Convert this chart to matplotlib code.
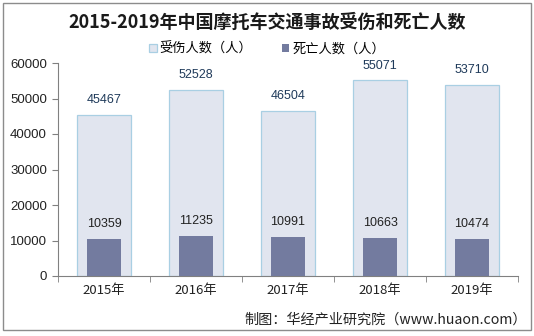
import matplotlib
matplotlib.use("Agg")
import matplotlib.pyplot as plt
from matplotlib.patches import Rectangle

plt.rcParams['font.family'] = ['Noto Sans CJK SC', 'DejaVu Sans']

years = ["2015年", "2016年", "2017年", "2018年", "2019年"]
injured = [45467, 52528, 46504, 55071, 53710]
deaths = [10359, 11235, 10991, 10663, 10474]
yticks = [0, 10000, 20000, 30000, 40000, 50000, 60000]

fig = plt.figure(figsize=(5.34, 3.36), dpi=100)
fig.patches.append(Rectangle((3/534, 6/336), 528/534, 327/336, transform=fig.transFigure,
                             fill=False, edgecolor='#8c8c8c', linewidth=1.0))
ax = fig.add_axes([58/534, 1-276/336, 460/534, 213/336])

x = list(range(len(years)))
b1 = ax.bar(x, injured, width=0.59, color='#e1e5ef', edgecolor='#a9cfe3', linewidth=0.9,
            label='受伤人数（人）', zorder=2)
b2 = ax.bar(x, deaths, width=0.37, color='#737b9f', edgecolor='none',
            label='死亡人数（人）', zorder=3)

for xi, v in zip(x, injured):
    ax.text(xi, v + 2500, str(v), ha='center', va='bottom', fontsize=9,
            color='#1f3a5a', family=['Liberation Sans', 'DejaVu Sans'])
for xi, v in zip(x, deaths):
    ax.text(xi, v + 2500, str(v), ha='center', va='bottom', fontsize=9,
            color='#222222', family=['Liberation Sans', 'DejaVu Sans'])

ax.set_xlim(-0.5, len(years) - 0.5)
ax.set_ylim(0, 60000)
ax.set_yticks(yticks)
ax.set_yticklabels([str(t) for t in yticks], family=['Liberation Sans', 'DejaVu Sans'],
                   fontsize=9.5, color='#222222')
ax.set_xticks(x)
ax.set_xticklabels(years, fontsize=9.5, color='#222222')
ax.tick_params(axis='x', which='major', length=0, pad=6)
ax.set_xticks([i - 0.5 for i in range(len(years) + 1)], minor=True)
ax.tick_params(axis='x', which='minor', length=4, color='#808080', direction='out')
ax.tick_params(axis='y', length=4, color='#808080', direction='out', pad=4)

for s in ['top', 'right']:
    ax.spines[s].set_visible(False)
ax.spines['left'].set_color('#808080')
ax.spines['bottom'].set_color('#808080')

fig.text(0.5, 1-22/336, '2015-2019年中国摩托车交通事故受伤和死亡人数', ha='center', va='center',
         fontsize=13, fontweight='bold', color='#1a1a1a')

fig.legend(handles=[b1, b2], loc='center', bbox_to_anchor=(0.5, 1-49/336), ncol=2,
           frameon=False, fontsize=9.5, handlelength=0.6, handleheight=0.6,
           handletextpad=0.2, columnspacing=2.2, borderpad=0)

fig.text(527/534, 1-320/336, '制图：华经产业研究院（www.huaon.com）', ha='right', va='center',
         fontsize=10.2, color='#222222')

fig.savefig('out.png', dpi=100)
